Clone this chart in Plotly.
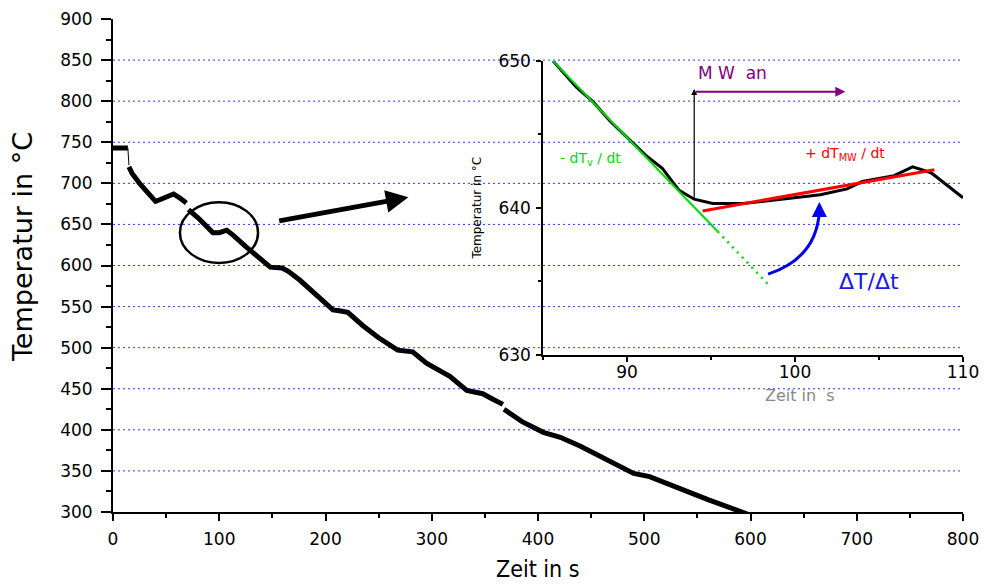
import plotly.graph_objects as go

# ---------------- data ----------------
# main cooling curve, split into drawn segments (gaps in the recording)
plateau_t = [0, 14]
plateau_T = [743, 743]
drop_t = [14, 15]
drop_T = [743, 722]
seg_a_t = [15, 18, 25, 33, 40, 44, 50, 57, 63, 69]
seg_a_T = [720, 712, 700, 688, 678, 680, 684, 687, 682, 676]
seg_b_t = [71, 80, 94, 100, 107, 113, 125, 137, 148, 159, 165, 176, 190, 207, 213, 221,
           235, 250, 268, 282, 295, 311, 317, 333, 348, 358, 367]
seg_b_T = [668, 658, 640, 640, 643, 637, 623, 610, 598, 597, 593, 582, 565, 546, 545, 543,
           527, 512, 497, 495, 481, 469, 465, 448, 444, 437, 431]
seg_c_t = [368, 385, 405, 421, 440, 460, 490, 505, 530, 560, 592, 600]
seg_c_T = [425, 410, 397, 391, 380, 367, 347, 343, 330, 315, 300, 296]

grid_T = [350, 400, 450, 500, 550, 600, 650, 700, 750, 800, 850]

# inset (zoom on the microwave switch-on)
ins_t = [85.6, 87.0, 88.0, 89.0, 90.0, 91.1, 92.1, 93.1, 94.0, 95.1, 96.9, 99.1, 101.5,
         103.1, 104.0, 105.9, 107.0, 108.1, 109.1, 110.0]
ins_T = [650.0, 648.2, 647.2, 645.9, 644.8, 643.6, 642.7, 641.2, 640.6, 640.3, 640.3, 640.6,
         640.9, 641.3, 641.8, 642.2, 642.8, 642.4, 641.5, 640.7]
green_t = [85.6, 95.4]
green_T = [650.0, 638.4]
green_ext_t = [95.4, 98.4]
green_ext_T = [638.4, 634.8]
red_t = [94.5, 108.3]
red_T = [639.8, 642.6]

fig = go.Figure()

# main curve
thick = dict(color="black", width=5)
fig.add_trace(go.Scatter(x=plateau_t, y=plateau_T, mode="lines", line=thick, showlegend=False))
fig.add_trace(go.Scatter(x=drop_t, y=drop_T, mode="lines", line=dict(color="black", width=1), showlegend=False))
fig.add_trace(go.Scatter(x=seg_a_t, y=seg_a_T, mode="lines", line=thick, showlegend=False))
fig.add_trace(go.Scatter(x=seg_b_t, y=seg_b_T, mode="lines", line=thick, showlegend=False))
fig.add_trace(go.Scatter(x=seg_c_t, y=seg_c_T, mode="lines", line=thick, showlegend=False))

# inset traces
fig.add_trace(go.Scatter(x=green_ext_t, y=green_ext_T, mode="lines", xaxis="x2", yaxis="y2",
                         line=dict(color="#00dd00", width=2.5, dash="2px,5px"), showlegend=False))
fig.add_trace(go.Scatter(x=ins_t, y=ins_T, mode="lines", xaxis="x2", yaxis="y2",
                         line=dict(color="black", width=3), showlegend=False))
fig.add_trace(go.Scatter(x=green_t, y=green_T, mode="lines", xaxis="x2", yaxis="y2",
                         line=dict(color="#00dd00", width=2), showlegend=False))
fig.add_trace(go.Scatter(x=red_t, y=red_T, mode="lines", xaxis="x2", yaxis="y2",
                         line=dict(color="#ff0000", width=3), showlegend=False))

shapes = []
for g in grid_T:
    shapes.append(dict(type="line", xref="x", yref="y", x0=0, x1=800, y0=g, y1=g,
                       line=dict(color="#3333ff", width=1, dash="2px,3px"), layer="below"))
# circle around the switch-on region
shapes.append(dict(type="circle", xref="x", yref="y", x0=63, x1=136.5, y0=603, y1=677,
                   line=dict(color="black", width=2.5)))
# blue curved arrow in the inset
shapes.append(dict(type="path", xref="x2", yref="y2",
                   path="M 98.4,635.5 Q 101.3,636.6 101.45,639.8",
                   line=dict(color="#0000ee", width=3)))
fig.update_layout(shapes=shapes)

ann = []
font = "DejaVu Sans, sans-serif"
C = dict(xanchor="center", yanchor="middle", showarrow=False)
# big black arrow pointing to inset
ann.append(dict(x=278, y=683, xref="x", yref="y", ax=155, ay=654, axref="x", ayref="y",
                showarrow=True, arrowhead=2, arrowsize=0.9, arrowwidth=5, arrowcolor="black", text=""))
# vertical thin arrow (MW on)
ann.append(dict(x=94.0, y=648.1, xref="x2", yref="y2", ax=94.0, ay=640.6, axref="x2", ayref="y2",
                showarrow=True, arrowhead=2, arrowsize=1, arrowwidth=1.2, arrowcolor="black", text=""))
# purple horizontal arrow
ann.append(dict(x=103.0, y=647.9, xref="x2", yref="y2", ax=94.0, ay=647.9, axref="x2", ayref="y2",
                showarrow=True, arrowhead=2, arrowsize=1, arrowwidth=2, arrowcolor="#800080", text=""))
# blue arrowhead
ann.append(dict(x=101.45, y=640.4, xref="x2", yref="y2", ax=101.45, ay=639.6, axref="x2", ayref="y2",
                showarrow=True, arrowhead=2, arrowsize=1, arrowwidth=3, arrowcolor="#0000ee", text=""))
# texts
ann.append(dict(x=96.3, y=649.2, xref="x2", yref="y2", text="M W  an",
                font=dict(family=font, size=17, color="#800080"), **C))
ann.append(dict(x=87.8, y=643.3, xref="x2", yref="y2", text="- dT<sub>v</sub> / dt",
                font=dict(family=font, size=14, color="#00dd00"), **C))
ann.append(dict(x=103.0, y=643.7, xref="x2", yref="y2", text="+ dT<sub>MW</sub> / dt",
                font=dict(family=font, size=14, color="#ff0000"), **C))
ann.append(dict(x=104.4, y=635.0, xref="x2", yref="y2", text="ΔT/Δt",
                font=dict(family=font, size=22, color="#1a1ae6"), **C))
ann.append(dict(x=0.808, y=0.237, xref="paper", yref="paper", text="Zeit in  s",
                font=dict(family=font, size=16, color="#888888"), **C))
ann.append(dict(x=0.428, y=0.617, xref="paper", yref="paper", text="Temperatur in °C",
                textangle=-90, font=dict(family=font, size=12, color="black"), **C))
ann.append(dict(x=-0.107, y=0.5375, xref="paper", yref="paper", text="Temperatur in °C",
                textangle=-90, font=dict(family=font, size=27, color="black"), **C))
ann.append(dict(x=0.5, y=-0.116, xref="paper", yref="paper", text="Zeit in s", borderpad=0,
                font=dict(family="DejaVu Sans Condensed, DejaVu Sans, sans-serif", size=23, color="black"), **C))
fig.update_layout(annotations=ann)

tickf = dict(family=font, size=17, color="black")
common = dict(showgrid=False, zeroline=False, showline=True, linecolor="black",
              ticks="outside", tickcolor="black", tickfont=tickf, automargin=False,
              ticklabeloverflow="allow")
fig.update_layout(
    width=985, height=586,
    margin=dict(l=113, r=22, t=19, b=74, autoexpand=False),
    paper_bgcolor="white", plot_bgcolor="rgba(0,0,0,0)",
    font=dict(family=font, size=15, color="black"),
    xaxis=dict(range=[0, 800], tickvals=[0, 100, 200, 300, 400, 500, 600, 700, 800],
               linewidth=2, ticklen=7, tickwidth=2, ticklabelstandoff=4,
               minor=dict(ticks="outside", dtick=50, ticklen=4, tickwidth=2, tickcolor="black"),
               domain=[0, 1], **common),
    yaxis=dict(range=[300, 900], tickvals=[300, 350, 400, 450, 500, 550, 600, 650, 700, 750, 800, 850, 900],
               linewidth=2, ticklen=10, tickwidth=2, ticklabelstandoff=5,
               minor=dict(ticks="outside", dtick=25, ticklen=5, tickwidth=2, tickcolor="black"),
               domain=[0, 1], **common),
    xaxis2=dict(range=[85, 110], tickvals=[90, 100, 110], anchor="y2", domain=[0.5059, 1.0],
                linewidth=1.5, ticklen=5, tickwidth=1.5, ticklabelstandoff=-4,
                minor=dict(ticks="outside", dtick=5, ticklen=3, tickwidth=1.5, tickcolor="black"),
                **common),
    yaxis2=dict(range=[630, 650], tickvals=[630, 640, 650], anchor="x2", domain=[0.3185, 0.9148],
                linewidth=1.5, ticklen=5, tickwidth=1.5, ticklabelstandoff=2,
                minor=dict(ticks="outside", dtick=5, ticklen=3, tickwidth=1.5, tickcolor="black"),
                **common),
)

fig.write_html("out.html", config={"displayModeBar": False},
               post_script="document.body.style.margin='0';document.body.style.overflow='hidden';")
